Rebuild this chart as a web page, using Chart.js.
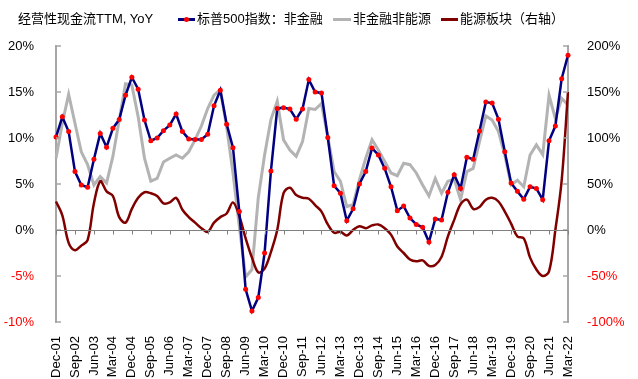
<!DOCTYPE html>
<html>
<head>
<meta charset="utf-8">
<script src="https://cdn.jsdelivr.net/npm/chart.js@4.4.0/dist/chart.umd.min.js"></script>
<style>
  body { margin: 0; background: #fff; }
  #wrap { position: relative; width: 638px; height: 379px; font-family: "Liberation Sans", "Noto Sans CJK SC", sans-serif; font-size: 13px; color: #000; }
  #head { position: absolute; top: 10px; left: 0; width: 638px; height: 18px; }
  .t { position: absolute; top: 0; white-space: nowrap; line-height: 18px; }
  .m { position: absolute; top: 8px; height: 3px; }
  .dot { position: absolute; top: 7px; width: 5px; height: 5px; border-radius: 50%; background: #ff0000; }
  canvas { position: absolute; left: 0; top: 0; }
</style>
</head>
<body>
<div id="wrap">
  <canvas id="cashChart" width="638" height="379"></canvas>
  <div id="head">
    <span class="t" style="left:18px">经营性现金流TTM, YoY</span>
    <span class="m" style="left:178px;width:17px;background:#000080"></span>
    <span class="dot" style="left:184px"></span>
    <span class="t" style="left:197px">标普500指数：非金融</span>
    <span class="m" style="left:333px;width:18px;background:#b3b3b3"></span>
    <span class="t" style="left:353px">非金融非能源</span>
    <span class="m" style="left:441px;width:17px;background:#800000"></span>
    <span class="t" style="left:460px">能源板块（右轴）</span>
  </div>
</div>
<script>
// Trimestres de Dec-01 à Mar-22
const mois = ['Mar', 'Jun', 'Sep', 'Dec'];
const trimestres = ['Dec-01'];
for (let an = 2; an <= 22; an++) {
  for (let q = 0; q < 4; q++) {
    if (an === 22 && q > 0) break;
    trimestres.push(mois[q] + '-' + String(an).padStart(2, '0'));
  }
}

// Séries (en %)
const sp500NonFin = [
  10.1, 12.3, 10.7, 6.35, 4.9, 4.65, 7.7, 10.5, 9.0, 11.05,
  12.0, 14.65, 16.6, 15.3, 11.95, 9.7, 10.0, 10.8, 11.4, 12.6,
  10.7, 9.9, 9.85, 9.85, 10.4, 13.5, 15.2, 11.5, 8.95, 2.0,
  -6.45, -8.8, -7.35, -2.5, 6.4, 13.2, 13.3, 13.15, 12.05, 13.15,
  16.35, 15.0, 14.9, 10.05, 4.8, 4.0, 1.0, 2.3, 5.0, 6.35,
  8.9, 8.15, 6.7, 4.7, 2.1, 2.6, 1.3, 0.6, 0.3, -1.3,
  1.2, 1.1, 4.1, 6.0, 4.5, 7.9, 7.7, 10.75, 13.9, 13.8,
  12.05, 8.5, 5.1, 4.2, 3.35, 4.7, 4.5, 3.3, 9.7, 11.3,
  16.45, 19.0
];

const nonFinNonEnergie = [
  7.8, 11.6, 14.75, 11.6, 8.5, 7.1, 4.9, 5.8, 5.1, 8.0,
  11.95, 15.9, 15.75, 12.3, 7.8, 5.3, 5.6, 7.4, 7.8, 8.15,
  7.8, 8.5, 9.8, 11.3, 13.2, 14.65, 15.25, 11.2, 6.2, 0.4,
  -5.1, -4.3, 3.5, 8.15, 12.0, 14.0, 9.8, 8.7, 8.0, 9.6,
  13.2, 13.1, 13.75, 10.1, 6.35, 5.3, 2.55, 2.75, 5.45, 7.8,
  9.8, 8.7, 7.45, 6.2, 5.9, 7.25, 7.1, 6.2, 4.9, 3.7,
  5.6, 4.0, 5.3, 5.5, 3.3, 6.35, 6.7, 9.6, 12.4, 11.95,
  10.7, 8.15, 4.9, 5.4, 4.7, 8.15, 9.25, 8.2, 14.65, 12.1,
  14.3, 13.6
];

// Axe de droite
const energie = [
  31, 16, -14, -22, -17, -11, 29, 53, 42, 37,
  14, 8, 23, 35, 41, 40, 37, 29, 30, 35,
  22, 14, 8, 2, -2, 8, 14, 18, 30, 15,
  -9, -30, -46, -42, -24, 0, 40, 46, 38, 35,
  34, 27, 20, 6, -3, -2, -6, 0, 4, 2,
  5, 6, 2, -5, -18, -25, -32, -34, -33, -39,
  -38, -29, -7, 11, 28, 33, 23, 25, 33, 35,
  31, 20, 7, -7, -9, -30, -43, -50, -45, 0,
  54, 150
];

// Ticks des axes
const ticksGauche = [-10, -5, 0, 5, 10, 15, 20];
const ticksDroite = [-100, -50, 0, 50, 100, 150, 200];

const gris = '#a6a6a6';

// Petits traits vers l'intérieur + ligne du zéro
const axesPlugin = {
  id: 'axesPlugin',
  afterDatasetsDraw(chart) {
    const ctx = chart.ctx;
    const a = chart.chartArea;
    const y = chart.scales.y, y1 = chart.scales.y1, x = chart.scales.x;
    ctx.save();
    ctx.strokeStyle = gris;
    ctx.lineWidth = 1.5;
    ctx.beginPath();
    y.ticks.forEach(t => {
      const p = Math.round(y.getPixelForValue(t.value));
      ctx.moveTo(a.left, p); ctx.lineTo(a.left + 5, p);
    });
    y1.ticks.forEach(t => {
      const p = Math.round(y1.getPixelForValue(t.value));
      ctx.moveTo(a.right, p); ctx.lineTo(a.right - 5, p);
    });
    ctx.stroke();
    // ligne du zéro
    const z = Math.round(y.getPixelForValue(0)) + 0.5;
    ctx.strokeStyle = '#808080';
    ctx.lineWidth = 1;
    ctx.beginPath();
    ctx.moveTo(a.left, z); ctx.lineTo(a.right, z);
    trimestres.forEach((l, i) => {
      if (i % 3 === 0) {
        const px = Math.round(x.getPixelForValue(i)) + 0.5;
        ctx.moveTo(px, z); ctx.lineTo(px, z + 4);
      }
    });
    ctx.stroke();
    ctx.restore();
  }
};

const data = {
  labels: trimestres,
  datasets: [
    {
      label: '标普500指数：非金融',
      data: sp500NonFin,
      yAxisID: 'y',
      borderColor: '#000080',
      borderWidth: 2.5,
      pointRadius: 2.5,
      pointBackgroundColor: '#ff0000',
      pointBorderWidth: 0,
      tension: 0,
      order: 0
    },
    {
      label: '非金融非能源',
      data: nonFinNonEnergie,
      yAxisID: 'y',
      borderColor: '#b3b3b3',
      borderWidth: 3,
      pointRadius: 0,
      tension: 0,
      order: 2
    },
    {
      label: '能源板块（右轴）',
      data: energie,
      yAxisID: 'y1',
      borderColor: '#800000',
      borderWidth: 2.5,
      pointRadius: 0,
      tension: 0.35,
      order: 1
    }
  ]
};

const police = { family: '"Liberation Sans", "Noto Sans CJK SC", sans-serif', size: 13 };

const config = {
  type: 'line',
  data: data,
  plugins: [axesPlugin],
  options: {
    responsive: false,
    animation: false,
    layout: { padding: { top: 46, left: 0, right: 0, bottom: 0 } },
    plugins: {
      legend: { display: false },
      tooltip: { enabled: false }
    },
    scales: {
      x: {
        offset: false,
        grid: { display: false },
        border: { display: false },
        ticks: {
          autoSkip: false,
          maxRotation: 90,
          minRotation: 90,
          padding: 6,
          color: '#000',
          font: police,
          callback: function (v, i) { return i % 3 === 0 ? trimestres[i] : ''; }
        },
        afterFit: s => { s.height = 57; }
      },
      y: {
        position: 'left',
        min: -10, max: 20,
        grid: { display: false },
        border: { color: gris, width: 2 },
        afterBuildTicks: s => { s.ticks = ticksGauche.map(v => ({ value: v })); },
        ticks: {
          padding: 14,
          font: police,
          color: c => c.tick.value < 0 ? '#ff0000' : '#000',
          callback: v => v + '%'
        },
        afterFit: s => { s.width = 56; }
      },
      y1: {
        position: 'right',
        min: -100, max: 200,
        grid: { display: false },
        border: { color: gris, width: 2 },
        afterBuildTicks: s => { s.ticks = ticksDroite.map(v => ({ value: v })); },
        ticks: {
          padding: 11,
          font: police,
          color: c => c.tick.value < 0 ? '#ff0000' : '#000',
          callback: v => v + '%'
        },
        afterFit: s => { s.width = 70; }
      }
    }
  }
};

const cashChart = new Chart(document.getElementById('cashChart'), config);
</script>
</body>
</html>
